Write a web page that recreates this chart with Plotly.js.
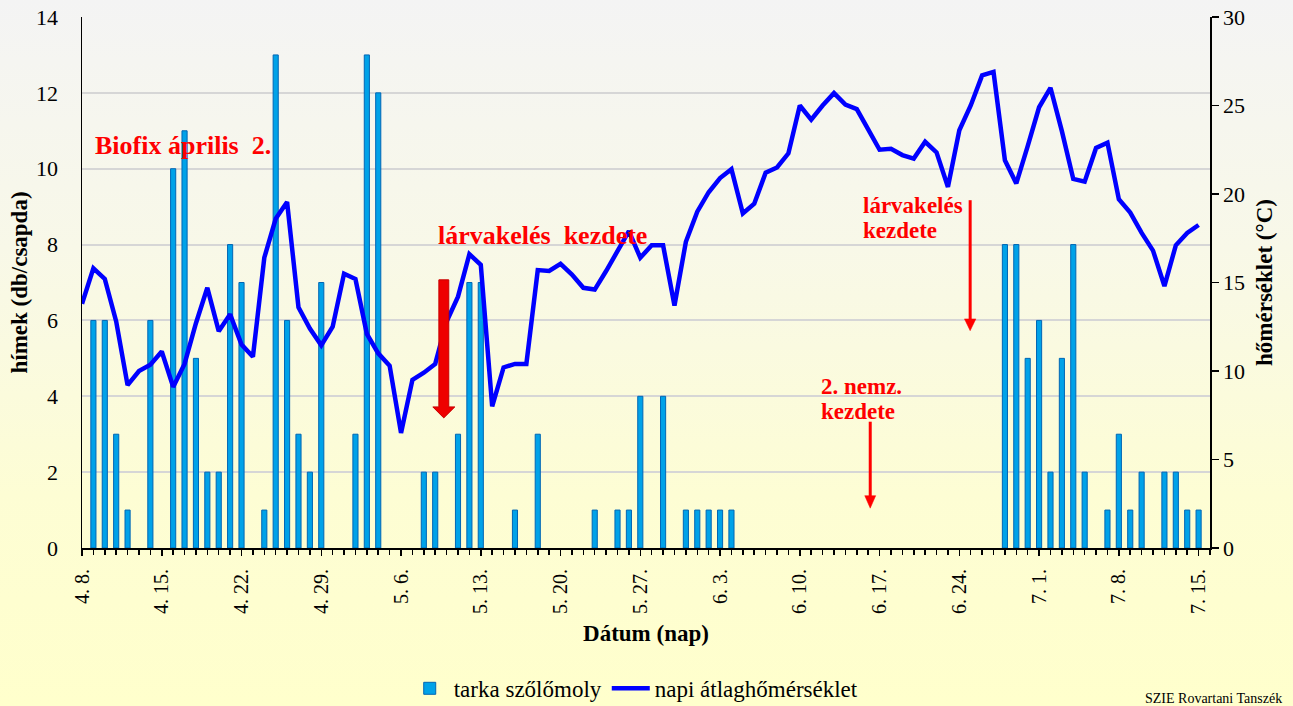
<!DOCTYPE html>
<html>
<head>
<meta charset="utf-8">
<script src="https://cdn.plot.ly/plotly-3.0.1.min.js"></script>
<style>
html,body{margin:0;padding:0;}
#chart{width:1293px;height:706px;background:linear-gradient(180deg,#f4f4f4 0%,#f8f8e8 35%,#fdfdd4 70%,#ffffcc 100%);}
</style>
</head>
<body>
<div id="chart"></div>
<script>
// Categories: days 4.8 ... 7.15
const days = [
 "4. 8.","4. 9.","4. 10.","4. 11.","4. 12.","4. 13.","4. 14.","4. 15.","4. 16.","4. 17.","4. 18.","4. 19.","4. 20.","4. 21.","4. 22.","4. 23.","4. 24.","4. 25.","4. 26.","4. 27.","4. 28.","4. 29.","4. 30.",
 "5. 1.","5. 2.","5. 3.","5. 4.","5. 5.","5. 6.","5. 7.","5. 8.","5. 9.","5. 10.","5. 11.","5. 12.","5. 13.","5. 14.","5. 15.","5. 16.","5. 17.","5. 18.","5. 19.","5. 20.","5. 21.","5. 22.","5. 23.","5. 24.","5. 25.","5. 26.","5. 27.","5. 28.","5. 29.","5. 30.","5. 31.",
 "6. 1.","6. 2.","6. 3.","6. 4.","6. 5.","6. 6.","6. 7.","6. 8.","6. 9.","6. 10.","6. 11.","6. 12.","6. 13.","6. 14.","6. 15.","6. 16.","6. 17.","6. 18.","6. 19.","6. 20.","6. 21.","6. 22.","6. 23.","6. 24.","6. 25.","6. 26.","6. 27.","6. 28.","6. 29.","6. 30.",
 "7. 1.","7. 2.","7. 3.","7. 4.","7. 5.","7. 6.","7. 7.","7. 8.","7. 9.","7. 10.","7. 11.","7. 12.","7. 13.","7. 14.","7. 15."
];
// tick labels shown on the axis (weekly)
const tickLabels = ["4. 8.","4. 15.","4. 22.","4. 29.","5. 6.","5. 13.","5. 20.","5. 27.","6. 3.","6. 10.","6. 17.","6. 24.","7. 1.","7. 8.","7. 15."];

// tarka szőlőmoly – males per trap per day
const moths = [
 0,6,6,3,1,0,6,
 0,10,11,5,2,2,8,
 7,0,1,13,6,3,2,
 7,0,0,3,13,12,0,
 0,0,2,2,0,3,7,
 7,0,0,1,0,3,0,
 0,0,0,1,0,1,1,
 4,0,4,0,1,1,1,
 1,1,0,0,0,0,0,
 0,0,0,0,0,0,0,
 0,0,0,0,0,0,0,
 0,0,0,0,8,8,5,
 6,2,5,8,2,0,1,
 3,1,2,0,2,2,1,
 1
];

// napi átlaghőmérséklet (°C)
const temps = [
 13.8,15.8,15.2,12.8,9.2,10.0,10.35,
 11.1,9.1,10.4,12.7,14.7,12.25,13.2,
 11.5,10.8,16.4,18.6,19.55,13.6,12.4,
 11.45,12.5,15.5,15.2,12.1,11.0,10.3,
 6.5,9.5,9.9,10.4,12.8,14.2,16.6,
 16.0,8.0,10.2,10.4,10.4,15.7,15.65,
 16.05,15.45,14.7,14.6,15.65,16.8,17.9,
 16.4,17.1,17.1,13.7,17.3,19.0,20.1,
 20.9,21.4,18.9,19.45,21.2,21.5,22.3,
 25.0,24.2,25.0,25.7,25.05,24.8,23.65,
 22.5,22.55,22.2,22.0,22.95,22.35,20.4,
 23.6,25.0,26.7,26.9,21.9,20.6,22.7,
 24.9,26.0,23.55,20.85,20.7,22.6,22.9,
 19.7,18.95,17.8,16.8,14.8,17.1,17.8,
 18.25
];

const idx = days.map((d, i) => i);
const tickVals = tickLabels.map(t => days.indexOf(t));
const SERIF = 'Liberation Serif';
const NB = '\u00a0';

const traces = [
  {
    type: 'bar', name: 'tarka szőlőmoly',
    x: idx, y: moths.map(v => v === 0 ? null : v),
    width: 0.45,
    marker: {color: '#00a2e8', line: {color: '#0066b4', width: 1}},
    yaxis: 'y', hoverinfo: 'skip'
  },
  {
    type: 'scatter', mode: 'lines', name: 'napi átlaghőmérséklet',
    x: idx, y: temps, yaxis: 'y2',
    line: {color: '#0000ff', width: 4.5}, hoverinfo: 'skip'
  }
];

const red = '#ff0000';
const layout = {
  width: 1293, height: 706,
  margin: {l: 82, r: 83, t: 17, b: 158},
  paper_bgcolor: 'rgba(0,0,0,0)', plot_bgcolor: 'rgba(0,0,0,0)',
  font: {family: SERIF, color: '#000', size: 22},
  showlegend: true,
  bargap: 0,
  xaxis: {
    range: [0, 99], tickmode: 'array', tickvals: tickVals, ticktext: tickLabels,
    tickangle: -90, tickfont: {family: SERIF, size: 20},
    ticks: 'outside', ticklen: 6, tickwidth: 1.5, tickcolor: '#000', ticklabelstandoff: 5,
    minor: {tickmode: 'linear', tick0: 0, dtick: 1, ticks: 'outside', ticklen: 5, tickwidth: 1.5, tickcolor: '#000', showgrid: false},
    showline: true, linecolor: '#000', linewidth: 2,
    showgrid: false, zeroline: false,
    title: {text: '<b>Dátum (nap)</b>', font: {family: SERIF, size: 23}, standoff: 12}
  },
  yaxis: {
    range: [0, 14], dtick: 2, tick0: 0,
    showgrid: true, gridcolor: '#d6d6d6', gridwidth: 2,
    showline: true, linecolor: '#000', linewidth: 1.5,
    ticks: '', ticklabelstandoff: 18, zeroline: false,
    tickfont: {family: SERIF, size: 22},
    title: {text: '<b>hímek (db/csapda)</b>', font: {family: SERIF, size: 23}, standoff: 2}
  },
  yaxis2: {
    range: [0, 30], dtick: 5, tick0: 0, overlaying: 'y', side: 'right',
    showgrid: false, zeroline: false,
    showline: true, linecolor: '#000', linewidth: 1.5,
    ticks: 'outside', ticklen: 7, tickwidth: 1.5, tickcolor: '#000',
    tickfont: {family: SERIF, size: 22},
    title: {text: '<b>hőmérséklet (°C)</b>', font: {family: SERIF, size: 23}, standoff: 12}
  },
  legend: {
    orientation: 'h', xref: 'paper', x: 0.49, xanchor: 'center',
    yref: 'container', y: 0.025, yanchor: 'middle',
    bgcolor: 'rgba(0,0,0,0)', font: {family: SERIF, size: 23}, itemwidth: 38
  },
  annotations: [
    {xref: 'x', yref: 'y', x: 1.0, y: 10.6, xanchor: 'left', yanchor: 'middle', showarrow: false,
     text: '<b>Biofix április' + NB + NB + '2.</b>', font: {family: SERIF, size: 26, color: red}},
    {xref: 'x', yref: 'y', x: 31.1, y: 8.23, xanchor: 'left', yanchor: 'middle', showarrow: false,
     text: '<b>lárvakelés' + NB + NB + 'kezdete</b>', font: {family: SERIF, size: 26, color: red}},
    {xref: 'x', yref: 'y', x: 68.35, y: 9.04, xanchor: 'left', yanchor: 'middle', showarrow: false,
     text: '<b>lárvakelés</b>', font: {family: SERIF, size: 23, color: red}},
    {xref: 'x', yref: 'y', x: 68.35, y: 8.38, xanchor: 'left', yanchor: 'middle', showarrow: false,
     text: '<b>kezdete</b>', font: {family: SERIF, size: 23, color: red}},
    {xref: 'x', yref: 'y', x: 64.7, y: 4.27, xanchor: 'left', yanchor: 'middle', showarrow: false,
     text: '<b>2. nemz.</b>', font: {family: SERIF, size: 23, color: red}},
    {xref: 'x', yref: 'y', x: 64.7, y: 3.59, xanchor: 'left', yanchor: 'middle', showarrow: false,
     text: '<b>kezdete</b>', font: {family: SERIF, size: 23, color: red}},
    {xref: 'paper', yref: 'paper', x: 1.0655, y: -0.283, xanchor: 'right', yanchor: 'middle', showarrow: false,
     text: 'SZIE Rovartani Tanszék', font: {family: SERIF, size: 14, color: '#000'}}
  ],
  shapes: [
    // big red arrow
    {type: 'path', xref: 'x', yref: 'y',
     path: 'M 31.32 7.07 L 32.19 7.07 L 32.19 3.72 L 32.72 3.72 L 31.75 3.43 L 30.79 3.72 L 31.32 3.72 Z',
     fillcolor: '#ee0000', line: {color: '#c80000', width: 1}},
    // thin arrow 1
    {type: 'line', xref: 'x', yref: 'y', x0: 77.95, x1: 77.95, y0: 9.17, y1: 6.0, line: {color: red, width: 3}},
    {type: 'path', xref: 'x', yref: 'y', path: 'M 77.45 6.04 L 78.45 6.04 L 77.95 5.73 Z', fillcolor: red, line: {color: red, width: 0.5}},
    // thin arrow 2
    {type: 'line', xref: 'x', yref: 'y', x0: 69.18, x1: 69.18, y0: 3.33, y1: 1.35, line: {color: red, width: 3}},
    {type: 'path', xref: 'x', yref: 'y', path: 'M 68.7 1.38 L 69.66 1.38 L 69.18 1.05 Z', fillcolor: red, line: {color: red, width: 0.5}}
  ]
};

Plotly.newPlot('chart', traces, layout, {staticPlot: true, displayModeBar: false});
</script>
</body>
</html>
